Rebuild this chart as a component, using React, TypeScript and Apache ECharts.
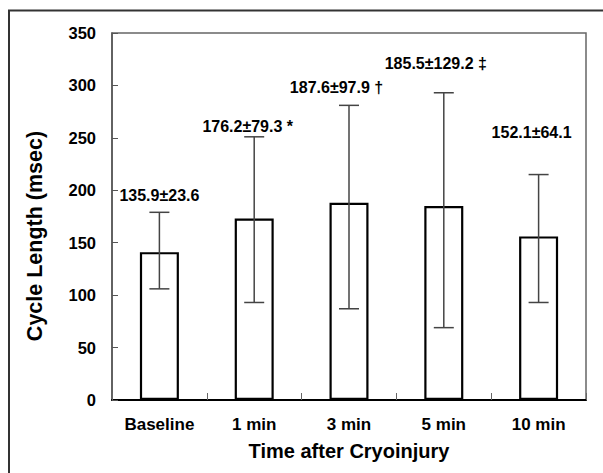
import React, { useEffect, useRef } from "react";
import * as echarts from "echarts";

const categories = ["Baseline", "1 min", "3 min", "5 min", "10 min"];
const barValues = [141, 173, 188, 185, 156];
const errLow = [106, 93, 87, 69, 93];
const errHigh = [179, 251, 281, 293, 215];
const labelTexts = ["135.9\u00b123.6", "176.2\u00b179.3 *", "187.6\u00b197.9 \u2020", "185.5\u00b1129.2 \u2021", "152.1\u00b164.1"];
const labelValues = [195, 261, 298, 320.5, 255];
const yTicks = { min: 0, max: 350, interval: 50 };

const labelDx = [0, -6.5, -12.5, -8, -7];
const FONT = '"Liberation Sans", Arial, sans-serif';

export default function App() {
  const ref = useRef<HTMLDivElement>(null);
  useEffect(() => {
    if (!ref.current) return;
    const chart = echarts.init(ref.current, null, { renderer: "svg" });
    chart.setOption({
      animation: false,
      backgroundColor: "#ffffff",
      textStyle: { fontFamily: FONT },
      grid: {
        left: 112,
        right: 17,
        top: 33,
        bottom: 73,
        show: true,
        borderColor: "#666",
        borderWidth: 1.5,
        containLabel: false,
      },
      graphic: [
        {
          type: "rect",
          shape: { x: 9, y: 10.5, width: 700, height: 600 },
          style: { fill: "none", stroke: "#333", lineWidth: 2 },
          silent: true,
        },
        {
          type: "text",
          x: 35,
          y: 236,
          rotation: Math.PI / 2,
          style: {
            text: "Cycle Length (msec)",
            fill: "#000",
            fontSize: 21.5,
            fontWeight: "bold",
            fontFamily: FONT,
            align: "center",
            verticalAlign: "middle",
          },
        },
      ],
      xAxis: {
        type: "category",
        data: categories,
        boundaryGap: true,
        name: "Time after Cryoinjury",
        nameLocation: "middle",
        nameGap: 41,
        nameTextStyle: { fontSize: 20, fontWeight: "bold", color: "#000", fontFamily: FONT },
        axisLine: { show: true, lineStyle: { color: "#000", width: 2 } },
        axisTick: { show: true, inside: true, length: 7, interval: 0, lineStyle: { color: "#666", width: 1 } },
        axisLabel: { fontSize: 17, fontWeight: "bold", color: "#000", margin: 16, fontFamily: FONT, interval: 0 },
        splitLine: { show: false },
      },
      yAxis: {
        type: "value",
        min: yTicks.min,
        max: yTicks.max,
        interval: yTicks.interval,
        axisLine: { show: true, lineStyle: { color: "#555", width: 1.5 } },
        axisTick: { show: true, inside: true, length: 6, lineStyle: { color: "#555", width: 1 } },
        axisLabel: { fontSize: 16.5, fontWeight: "bold", color: "#000", margin: 16, fontFamily: FONT },
        splitLine: { show: false },
      },
      series: [
        {
          type: "bar",
          data: barValues,
          barWidth: 39,
          itemStyle: { color: "#ffffff", borderColor: "#000", borderWidth: 2.2 },
          z: 2,
        },
        {
          type: "custom",
          z: 3,
          data: categories.map((_, i) => [i, errLow[i], errHigh[i]]),
          renderItem: (params: any, api: any) => {
            const i = api.value(0);
            const top = api.coord([i, api.value(2)]);
            const bot = api.coord([i, api.value(1)]);
            const half = 10;
            const st = { stroke: "#444", lineWidth: 1.5 };
            return {
              type: "group",
              children: [
                { type: "line", shape: { x1: top[0], y1: top[1], x2: bot[0], y2: bot[1] }, style: st },
                { type: "line", shape: { x1: top[0] - half, y1: top[1], x2: top[0] + half, y2: top[1] }, style: st },
                { type: "line", shape: { x1: bot[0] - half, y1: bot[1], x2: bot[0] + half, y2: bot[1] }, style: st },
              ],
            };
          },
        },
        {
          type: "custom",
          z: 4,
          data: categories.map((_, i) => [i, labelValues[i]]),
          renderItem: (params: any, api: any) => {
            const i = api.value(0);
            const p = api.coord([i, api.value(1)]);
            return {
              type: "text",
              x: p[0] + labelDx[params.dataIndex],
              y: p[1],
              style: {
                text: labelTexts[params.dataIndex],
                fill: "#000",
                fontSize: 16,
                fontWeight: "bold",
                fontFamily: FONT,
                align: "center",
                verticalAlign: "middle",
              },
            };
          },
        },
      ],
    });
    return () => chart.dispose();
  }, []);
  return (
    <div
      ref={ref}
      style={{ position: "fixed", left: 0, top: 0, width: 603, height: 473 }}
    />
  );
}
